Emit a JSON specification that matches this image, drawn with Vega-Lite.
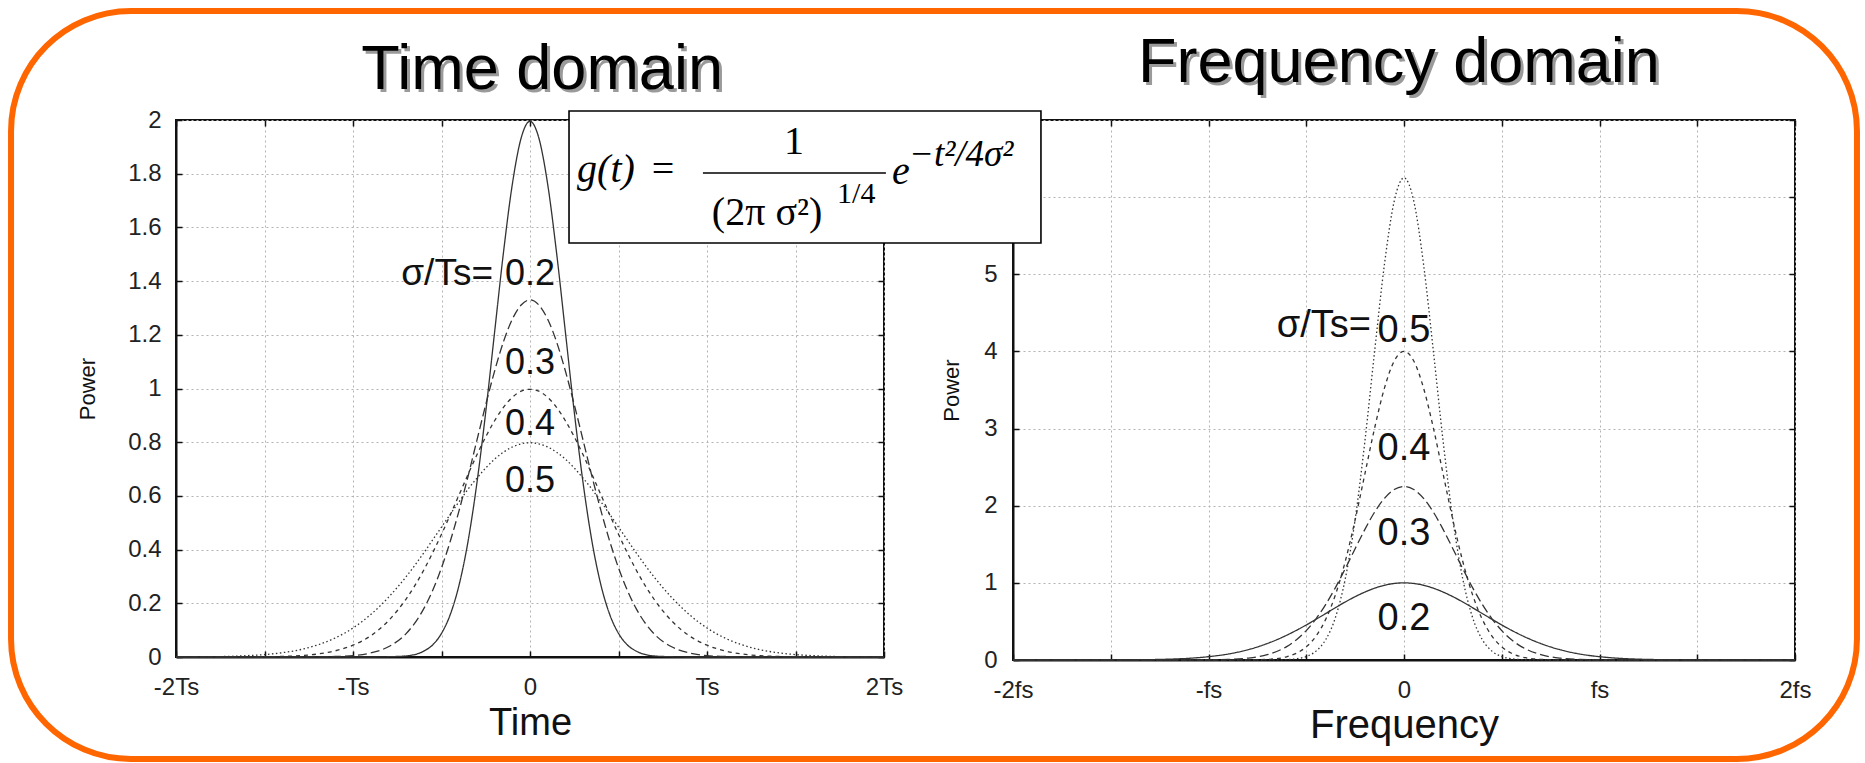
{
  "$schema": "https://vega.github.io/schema/vega-lite/v6.json",
  "padding": {"left": 7, "top": 6, "right": 6, "bottom": 3},
  "background": "white",
  "bounds": "flush",
  "spacing": 129,
  "config": {
    "font": "Liberation Sans",
    "view": {"stroke": "#111", "strokeWidth": 2, "fill": null},
    "axis": {
      "labelFont": "Liberation Sans",
      "labelFontSize": 24,
      "labelColor": "#222",
      "titleFont": "Liberation Sans",
      "titleFontWeight": "normal",
      "titleColor": "#111",
      "domainColor": "#111",
      "domainWidth": 2,
      "tickColor": "#111",
      "tickWidth": 1.5,
      "tickSize": -6,
      "gridColor": "#b3b3b3",
      "gridDash": [2, 3],
      "gridWidth": 1,
      "labelOverlap": false,
      "labelFlush": false,
      "zindex": 0
    }
  },
  "datasets": {
    "tcurve": [
      {"s":"0.2","x":-2,"p":0},{"s":"0.2","x":-1.5,"p":0},{"s":"0.2","x":-1,"p":0},{"s":"0.2","x":-0.9,"p":0},{"s":"0.2","x":-0.8,"p":0.001},{"s":"0.2","x":-0.7,"p":0.004},{"s":"0.2","x":-0.6,"p":0.022},{"s":"0.2","x":-0.55,"p":0.045},{"s":"0.2","x":-0.5,"p":0.088},{"s":"0.2","x":-0.45,"p":0.159},{"s":"0.2","x":-0.4,"p":0.27},{"s":"0.2","x":-0.35,"p":0.431},{"s":"0.2","x":-0.3,"p":0.648},{"s":"0.2","x":-0.25,"p":0.913},{"s":"0.2","x":-0.2,"p":1.21},{"s":"0.2","x":-0.15,"p":1.506},{"s":"0.2","x":-0.1,"p":1.76},{"s":"0.2","x":-0.05,"p":1.933},
      {"s":"0.2","x":0,"p":1.995},
      {"s":"0.2","x":0.05,"p":1.933},{"s":"0.2","x":0.1,"p":1.76},{"s":"0.2","x":0.15,"p":1.506},{"s":"0.2","x":0.2,"p":1.21},{"s":"0.2","x":0.25,"p":0.913},{"s":"0.2","x":0.3,"p":0.648},{"s":"0.2","x":0.35,"p":0.431},{"s":"0.2","x":0.4,"p":0.27},{"s":"0.2","x":0.45,"p":0.159},{"s":"0.2","x":0.5,"p":0.088},{"s":"0.2","x":0.55,"p":0.045},{"s":"0.2","x":0.6,"p":0.022},{"s":"0.2","x":0.7,"p":0.004},{"s":"0.2","x":0.8,"p":0.001},{"s":"0.2","x":0.9,"p":0},{"s":"0.2","x":1,"p":0},{"s":"0.2","x":1.5,"p":0},{"s":"0.2","x":2,"p":0},

      {"s":"0.3","x":-2,"p":0},{"s":"0.3","x":-1.5,"p":0},{"s":"0.3","x":-1.2,"p":0.0004},{"s":"0.3","x":-1.1,"p":0.002},{"s":"0.3","x":-1,"p":0.005},{"s":"0.3","x":-0.9,"p":0.015},{"s":"0.3","x":-0.8,"p":0.038},{"s":"0.3","x":-0.7,"p":0.087},{"s":"0.3","x":-0.6,"p":0.18},{"s":"0.3","x":-0.55,"p":0.248},{"s":"0.3","x":-0.5,"p":0.332},{"s":"0.3","x":-0.45,"p":0.432},{"s":"0.3","x":-0.4,"p":0.547},{"s":"0.3","x":-0.35,"p":0.673},{"s":"0.3","x":-0.3,"p":0.807},{"s":"0.3","x":-0.25,"p":0.94},{"s":"0.3","x":-0.2,"p":1.065},{"s":"0.3","x":-0.15,"p":1.174},{"s":"0.3","x":-0.1,"p":1.258},{"s":"0.3","x":-0.05,"p":1.311},
      {"s":"0.3","x":0,"p":1.33},
      {"s":"0.3","x":0.05,"p":1.311},{"s":"0.3","x":0.1,"p":1.258},{"s":"0.3","x":0.15,"p":1.174},{"s":"0.3","x":0.2,"p":1.065},{"s":"0.3","x":0.25,"p":0.94},{"s":"0.3","x":0.3,"p":0.807},{"s":"0.3","x":0.35,"p":0.673},{"s":"0.3","x":0.4,"p":0.547},{"s":"0.3","x":0.45,"p":0.432},{"s":"0.3","x":0.5,"p":0.332},{"s":"0.3","x":0.55,"p":0.248},{"s":"0.3","x":0.6,"p":0.18},{"s":"0.3","x":0.7,"p":0.087},{"s":"0.3","x":0.8,"p":0.038},{"s":"0.3","x":0.9,"p":0.015},{"s":"0.3","x":1,"p":0.005},{"s":"0.3","x":1.1,"p":0.002},{"s":"0.3","x":1.2,"p":0.0004},{"s":"0.3","x":1.5,"p":0},{"s":"0.3","x":2,"p":0},

      {"s":"0.4","x":-2,"p":0},{"s":"0.4","x":-1.8,"p":0},{"s":"0.4","x":-1.6,"p":0.0003},{"s":"0.4","x":-1.5,"p":0.001},{"s":"0.4","x":-1.4,"p":0.002},{"s":"0.4","x":-1.3,"p":0.005},{"s":"0.4","x":-1.2,"p":0.011},{"s":"0.4","x":-1.1,"p":0.023},{"s":"0.4","x":-1,"p":0.044},{"s":"0.4","x":-0.9,"p":0.079},{"s":"0.4","x":-0.8,"p":0.135},{"s":"0.4","x":-0.7,"p":0.216},{"s":"0.4","x":-0.6,"p":0.324},{"s":"0.4","x":-0.55,"p":0.388},{"s":"0.4","x":-0.5,"p":0.457},{"s":"0.4","x":-0.45,"p":0.53},{"s":"0.4","x":-0.4,"p":0.605},{"s":"0.4","x":-0.35,"p":0.68},{"s":"0.4","x":-0.3,"p":0.753},{"s":"0.4","x":-0.25,"p":0.82},{"s":"0.4","x":-0.2,"p":0.88},{"s":"0.4","x":-0.15,"p":0.93},{"s":"0.4","x":-0.1,"p":0.967},{"s":"0.4","x":-0.05,"p":0.99},
      {"s":"0.4","x":0,"p":0.997},
      {"s":"0.4","x":0.05,"p":0.99},{"s":"0.4","x":0.1,"p":0.967},{"s":"0.4","x":0.15,"p":0.93},{"s":"0.4","x":0.2,"p":0.88},{"s":"0.4","x":0.25,"p":0.82},{"s":"0.4","x":0.3,"p":0.753},{"s":"0.4","x":0.35,"p":0.68},{"s":"0.4","x":0.4,"p":0.605},{"s":"0.4","x":0.45,"p":0.53},{"s":"0.4","x":0.5,"p":0.457},{"s":"0.4","x":0.55,"p":0.388},{"s":"0.4","x":0.6,"p":0.324},{"s":"0.4","x":0.7,"p":0.216},{"s":"0.4","x":0.8,"p":0.135},{"s":"0.4","x":0.9,"p":0.079},{"s":"0.4","x":1,"p":0.044},{"s":"0.4","x":1.1,"p":0.023},{"s":"0.4","x":1.2,"p":0.011},{"s":"0.4","x":1.3,"p":0.005},{"s":"0.4","x":1.4,"p":0.002},{"s":"0.4","x":1.5,"p":0.001},{"s":"0.4","x":1.6,"p":0.0003},{"s":"0.4","x":1.8,"p":0},{"s":"0.4","x":2,"p":0},

      {"s":"0.5","x":-2,"p":0.0003},{"s":"0.5","x":-1.8,"p":0.001},{"s":"0.5","x":-1.6,"p":0.005},{"s":"0.5","x":-1.5,"p":0.009},{"s":"0.5","x":-1.4,"p":0.016},{"s":"0.5","x":-1.3,"p":0.027},{"s":"0.5","x":-1.2,"p":0.045},{"s":"0.5","x":-1.1,"p":0.071},{"s":"0.5","x":-1,"p":0.108},{"s":"0.5","x":-0.9,"p":0.158},{"s":"0.5","x":-0.8,"p":0.222},{"s":"0.5","x":-0.7,"p":0.299},{"s":"0.5","x":-0.6,"p":0.388},{"s":"0.5","x":-0.55,"p":0.436},{"s":"0.5","x":-0.5,"p":0.484},{"s":"0.5","x":-0.45,"p":0.532},{"s":"0.5","x":-0.4,"p":0.579},{"s":"0.5","x":-0.35,"p":0.625},{"s":"0.5","x":-0.3,"p":0.666},{"s":"0.5","x":-0.25,"p":0.704},{"s":"0.5","x":-0.2,"p":0.737},{"s":"0.5","x":-0.15,"p":0.763},{"s":"0.5","x":-0.1,"p":0.782},{"s":"0.5","x":-0.05,"p":0.794},
      {"s":"0.5","x":0,"p":0.798},
      {"s":"0.5","x":0.05,"p":0.794},{"s":"0.5","x":0.1,"p":0.782},{"s":"0.5","x":0.15,"p":0.763},{"s":"0.5","x":0.2,"p":0.737},{"s":"0.5","x":0.25,"p":0.704},{"s":"0.5","x":0.3,"p":0.666},{"s":"0.5","x":0.35,"p":0.625},{"s":"0.5","x":0.4,"p":0.579},{"s":"0.5","x":0.45,"p":0.532},{"s":"0.5","x":0.5,"p":0.484},{"s":"0.5","x":0.55,"p":0.436},{"s":"0.5","x":0.6,"p":0.388},{"s":"0.5","x":0.7,"p":0.299},{"s":"0.5","x":0.8,"p":0.222},{"s":"0.5","x":0.9,"p":0.158},{"s":"0.5","x":1,"p":0.108},{"s":"0.5","x":1.1,"p":0.071},{"s":"0.5","x":1.2,"p":0.045},{"s":"0.5","x":1.3,"p":0.027},{"s":"0.5","x":1.4,"p":0.016},{"s":"0.5","x":1.5,"p":0.009},{"s":"0.5","x":1.6,"p":0.005},{"s":"0.5","x":1.8,"p":0.001},{"s":"0.5","x":2,"p":0.0003}
    ],
    "fcurve": [
      {"s":"0.2","x":-2,"p":0},{"s":"0.2","x":-1.8,"p":0},{"s":"0.2","x":-1.6,"p":0.0003},{"s":"0.2","x":-1.5,"p":0.001},{"s":"0.2","x":-1.4,"p":0.002},{"s":"0.2","x":-1.3,"p":0.005},{"s":"0.2","x":-1.2,"p":0.011},{"s":"0.2","x":-1.1,"p":0.022},{"s":"0.2","x":-1,"p":0.043},{"s":"0.2","x":-0.9,"p":0.077},{"s":"0.2","x":-0.8,"p":0.132},{"s":"0.2","x":-0.7,"p":0.213},{"s":"0.2","x":-0.6,"p":0.321},{"s":"0.2","x":-0.55,"p":0.385},{"s":"0.2","x":-0.5,"p":0.454},{"s":"0.2","x":-0.45,"p":0.528},{"s":"0.2","x":-0.4,"p":0.603},{"s":"0.2","x":-0.35,"p":0.679},{"s":"0.2","x":-0.3,"p":0.753},{"s":"0.2","x":-0.25,"p":0.821},{"s":"0.2","x":-0.2,"p":0.881},{"s":"0.2","x":-0.15,"p":0.931},{"s":"0.2","x":-0.1,"p":0.969},{"s":"0.2","x":-0.05,"p":0.992},
      {"s":"0.2","x":0,"p":1},
      {"s":"0.2","x":0.05,"p":0.992},{"s":"0.2","x":0.1,"p":0.969},{"s":"0.2","x":0.15,"p":0.931},{"s":"0.2","x":0.2,"p":0.881},{"s":"0.2","x":0.25,"p":0.821},{"s":"0.2","x":0.3,"p":0.753},{"s":"0.2","x":0.35,"p":0.679},{"s":"0.2","x":0.4,"p":0.603},{"s":"0.2","x":0.45,"p":0.528},{"s":"0.2","x":0.5,"p":0.454},{"s":"0.2","x":0.55,"p":0.385},{"s":"0.2","x":0.6,"p":0.321},{"s":"0.2","x":0.7,"p":0.213},{"s":"0.2","x":0.8,"p":0.132},{"s":"0.2","x":0.9,"p":0.077},{"s":"0.2","x":1,"p":0.043},{"s":"0.2","x":1.1,"p":0.022},{"s":"0.2","x":1.2,"p":0.011},{"s":"0.2","x":1.3,"p":0.005},{"s":"0.2","x":1.4,"p":0.002},{"s":"0.2","x":1.5,"p":0.001},{"s":"0.2","x":1.6,"p":0.0003},{"s":"0.2","x":1.8,"p":0},{"s":"0.2","x":2,"p":0},

      {"s":"0.3","x":-2,"p":0},{"s":"0.3","x":-1.5,"p":0},{"s":"0.3","x":-1.2,"p":0},{"s":"0.3","x":-1.1,"p":0.0004},{"s":"0.3","x":-1,"p":0.002},{"s":"0.3","x":-0.9,"p":0.007},{"s":"0.3","x":-0.8,"p":0.024},{"s":"0.3","x":-0.7,"p":0.069},{"s":"0.3","x":-0.6,"p":0.174},{"s":"0.3","x":-0.55,"p":0.262},{"s":"0.3","x":-0.5,"p":0.381},{"s":"0.3","x":-0.45,"p":0.534},{"s":"0.3","x":-0.4,"p":0.722},{"s":"0.3","x":-0.35,"p":0.942},{"s":"0.3","x":-0.3,"p":1.187},{"s":"0.3","x":-0.25,"p":1.443},{"s":"0.3","x":-0.2,"p":1.693},{"s":"0.3","x":-0.15,"p":1.918},{"s":"0.3","x":-0.1,"p":2.096},{"s":"0.3","x":-0.05,"p":2.21},
      {"s":"0.3","x":0,"p":2.25},
      {"s":"0.3","x":0.05,"p":2.21},{"s":"0.3","x":0.1,"p":2.096},{"s":"0.3","x":0.15,"p":1.918},{"s":"0.3","x":0.2,"p":1.693},{"s":"0.3","x":0.25,"p":1.443},{"s":"0.3","x":0.3,"p":1.187},{"s":"0.3","x":0.35,"p":0.942},{"s":"0.3","x":0.4,"p":0.722},{"s":"0.3","x":0.45,"p":0.534},{"s":"0.3","x":0.5,"p":0.381},{"s":"0.3","x":0.55,"p":0.262},{"s":"0.3","x":0.6,"p":0.174},{"s":"0.3","x":0.7,"p":0.069},{"s":"0.3","x":0.8,"p":0.024},{"s":"0.3","x":0.9,"p":0.007},{"s":"0.3","x":1,"p":0.002},{"s":"0.3","x":1.1,"p":0.0004},{"s":"0.3","x":1.2,"p":0},{"s":"0.3","x":1.5,"p":0},{"s":"0.3","x":2,"p":0},

      {"s":"0.4","x":-2,"p":0},{"s":"0.4","x":-1.5,"p":0},{"s":"0.4","x":-1,"p":0},{"s":"0.4","x":-0.9,"p":0.0001},{"s":"0.4","x":-0.8,"p":0.001},{"s":"0.4","x":-0.7,"p":0.008},{"s":"0.4","x":-0.6,"p":0.042},{"s":"0.4","x":-0.55,"p":0.088},{"s":"0.4","x":-0.5,"p":0.17},{"s":"0.4","x":-0.45,"p":0.31},{"s":"0.4","x":-0.4,"p":0.53},{"s":"0.4","x":-0.35,"p":0.851},{"s":"0.4","x":-0.3,"p":1.283},{"s":"0.4","x":-0.25,"p":1.816},{"s":"0.4","x":-0.2,"p":2.413},{"s":"0.4","x":-0.15,"p":3.01},{"s":"0.4","x":-0.1,"p":3.525},{"s":"0.4","x":-0.05,"p":3.876},
      {"s":"0.4","x":0,"p":4},
      {"s":"0.4","x":0.05,"p":3.876},{"s":"0.4","x":0.1,"p":3.525},{"s":"0.4","x":0.15,"p":3.01},{"s":"0.4","x":0.2,"p":2.413},{"s":"0.4","x":0.25,"p":1.816},{"s":"0.4","x":0.3,"p":1.283},{"s":"0.4","x":0.35,"p":0.851},{"s":"0.4","x":0.4,"p":0.53},{"s":"0.4","x":0.45,"p":0.31},{"s":"0.4","x":0.5,"p":0.17},{"s":"0.4","x":0.55,"p":0.088},{"s":"0.4","x":0.6,"p":0.042},{"s":"0.4","x":0.7,"p":0.008},{"s":"0.4","x":0.8,"p":0.001},{"s":"0.4","x":0.9,"p":0.0001},{"s":"0.4","x":1,"p":0},{"s":"0.4","x":1.5,"p":0},{"s":"0.4","x":2,"p":0},

      {"s":"0.5","x":-2,"p":0},{"s":"0.5","x":-1.5,"p":0},{"s":"0.5","x":-1,"p":0},{"s":"0.5","x":-0.8,"p":0},{"s":"0.5","x":-0.7,"p":0.0004},{"s":"0.5","x":-0.6,"p":0.005},{"s":"0.5","x":-0.55,"p":0.016},{"s":"0.5","x":-0.5,"p":0.045},{"s":"0.5","x":-0.45,"p":0.115},{"s":"0.5","x":-0.4,"p":0.266},{"s":"0.5","x":-0.35,"p":0.557},{"s":"0.5","x":-0.3,"p":1.058},{"s":"0.5","x":-0.25,"p":1.82},{"s":"0.5","x":-0.2,"p":2.838},{"s":"0.5","x":-0.15,"p":4.009},{"s":"0.5","x":-0.1,"p":5.13},{"s":"0.5","x":-0.05,"p":5.949},
      {"s":"0.5","x":0,"p":6.25},
      {"s":"0.5","x":0.05,"p":5.949},{"s":"0.5","x":0.1,"p":5.13},{"s":"0.5","x":0.15,"p":4.009},{"s":"0.5","x":0.2,"p":2.838},{"s":"0.5","x":0.25,"p":1.82},{"s":"0.5","x":0.3,"p":1.058},{"s":"0.5","x":0.35,"p":0.557},{"s":"0.5","x":0.4,"p":0.266},{"s":"0.5","x":0.45,"p":0.115},{"s":"0.5","x":0.5,"p":0.045},{"s":"0.5","x":0.55,"p":0.016},{"s":"0.5","x":0.6,"p":0.005},{"s":"0.5","x":0.7,"p":0.0004},{"s":"0.5","x":0.8,"p":0},{"s":"0.5","x":1,"p":0},{"s":"0.5","x":1.5,"p":0},{"s":"0.5","x":2,"p":0}
    ]
  },
  "hconcat": [
    {
      "width": 708,
      "height": 537,
      "resolve": {"axis": {"x": "independent", "y": "independent"}},
      "layer": [
        {
          "description": "rounded orange frame around both panels",
          "data": {"values": [{"x1": -2.932, "x2": 7.497, "y1": 2.406, "y2": -0.38}]},
          "mark": {"type": "rect", "cornerRadius": 120, "fill": null, "stroke": "#ff6600", "strokeWidth": 6},
          "encoding": {
            "x": {"field": "x1", "type": "quantitative", "scale": {"domain": [-2, 2], "nice": false, "zero": false}, "axis": null},
            "x2": {"field": "x2"},
            "y": {"field": "y1", "type": "quantitative", "scale": {"domain": [0, 2], "nice": false, "zero": false}, "axis": null},
            "y2": {"field": "y2"}
          }
        },
        {
          "data": {"name": "tcurve"},
          "mark": {"type": "line", "interpolate": "monotone", "color": "#333", "strokeWidth": 1.3},
          "encoding": {
            "x": {
              "field": "x", "type": "quantitative",
              "scale": {"domain": [-2, 2], "nice": false, "zero": false},
              "axis": {
                "orient": "bottom", "title": "Time", "titleFontSize": 38, "titlePadding": 5,
                "values": [-2, -1.5, -1, -0.5, 0, 0.5, 1, 1.5, 2],
                "labelExpr": "datum.value === 0 ? '0' : datum.value === 1 ? 'Ts' : datum.value === -1 ? '-Ts' : datum.value === 2 ? '2Ts' : datum.value === -2 ? '-2Ts' : ''",
                "labelPadding": 24, "grid": true
              }
            },
            "y": {
              "field": "p", "type": "quantitative",
              "scale": {"domain": [0, 2], "nice": false, "zero": false},
              "axis": {
                "orient": "left", "title": "Power", "titleFontSize": 22, "titlePadding": 28,
                "values": [0, 0.2, 0.4, 0.6, 0.8, 1, 1.2, 1.4, 1.6, 1.8, 2],
                "format": "~g", "labelPadding": 21, "grid": true
              }
            },
            "strokeDash": {
              "field": "s", "type": "nominal",
              "scale": {"domain": ["0.2", "0.3", "0.4", "0.5"], "range": [[1, 0], [9, 4], [4, 4], [1.5, 2.5]]},
              "legend": null
            }
          }
        },
        {
          "data": {"values": [
            {"t": "0.2", "x": 0, "y": 1.385},
            {"t": "0.3", "x": 0, "y": 1.054},
            {"t": "0.4", "x": 0, "y": 0.827},
            {"t": "0.5", "x": 0, "y": 0.615}
          ]},
          "mark": {"type": "text", "fontSize": 36, "align": "center", "baseline": "alphabetic", "color": "#111"},
          "encoding": {
            "x": {
              "field": "x", "type": "quantitative",
              "scale": {"domain": [-2, 2], "nice": false, "zero": false},
              "axis": {"orient": "top", "title": null, "labels": false, "grid": false, "domain": false, "values": [-2, -1.5, -1, -0.5, 0, 0.5, 1, 1.5, 2]}
            },
            "y": {
              "field": "y", "type": "quantitative",
              "scale": {"domain": [0, 2], "nice": false, "zero": false},
              "axis": {"orient": "right", "title": null, "labels": false, "grid": false, "domain": false, "values": [0, 0.2, 0.4, 0.6, 0.8, 1, 1.2, 1.4, 1.6, 1.8, 2]}
            },
            "text": {"field": "t"}
          }
        },
        {
          "data": {"values": [{"t": "σ/Ts=", "x": -0.209, "y": 1.385}]},
          "mark": {"type": "text", "fontSize": 37, "align": "right", "baseline": "alphabetic", "color": "#111"},
          "encoding": {
            "x": {"field": "x", "type": "quantitative", "scale": {"domain": [-2, 2], "nice": false, "zero": false}, "axis": null},
            "y": {"field": "y", "type": "quantitative", "scale": {"domain": [0, 2], "nice": false, "zero": false}, "axis": null},
            "text": {"field": "t"}
          }
        },
        {
          "data": {"values": [{"t": "Time domain", "x": 0.068, "y": 2.1155}]},
          "layer": [
            {"mark": {"type": "text", "fontSize": 63, "align": "center", "baseline": "alphabetic", "color": "#9a9a9a", "dx": 3, "dy": 3}},
            {"mark": {"type": "text", "fontSize": 63, "align": "center", "baseline": "alphabetic", "color": "#000"}}
          ],
          "encoding": {
            "x": {"field": "x", "type": "quantitative", "scale": {"domain": [-2, 2], "nice": false, "zero": false}, "axis": null},
            "y": {"field": "y", "type": "quantitative", "scale": {"domain": [0, 2], "nice": false, "zero": false}, "axis": null},
            "text": {"field": "t"}
          }
        }
      ]
    },
    {
      "width": 782,
      "height": 540,
      "resolve": {"axis": {"x": "independent", "y": "independent"}},
      "layer": [
        {
          "data": {"name": "fcurve"},
          "mark": {"type": "line", "interpolate": "monotone", "color": "#333", "strokeWidth": 1.3},
          "encoding": {
            "x": {
              "field": "x", "type": "quantitative",
              "scale": {"domain": [-2, 2], "nice": false, "zero": false},
              "axis": {
                "orient": "bottom", "title": "Frequency", "titleFontSize": 40, "titlePadding": 3,
                "values": [-2, -1.5, -1, -0.5, 0, 0.5, 1, 1.5, 2],
                "labelExpr": "datum.value === 0 ? '0' : datum.value === 1 ? 'fs' : datum.value === -1 ? '-fs' : datum.value === 2 ? '2fs' : datum.value === -2 ? '-2fs' : ''",
                "labelPadding": 24, "grid": true
              }
            },
            "y": {
              "field": "p", "type": "quantitative",
              "scale": {"domain": [0, 7], "nice": false, "zero": false},
              "axis": {
                "orient": "left", "title": "Power", "titleFontSize": 22, "titlePadding": 20,
                "values": [0, 1, 2, 3, 4, 5, 6, 7],
                "labelExpr": "datum.value > 5 ? '' : datum.label",
                "labelPadding": 22, "grid": true
              }
            },
            "strokeDash": {
              "field": "s", "type": "nominal",
              "scale": {"domain": ["0.2", "0.3", "0.4", "0.5"], "range": [[1, 0], [9, 4], [4, 4], [1.5, 2.5]]},
              "legend": null
            }
          }
        },
        {
          "data": {"values": [
            {"t": "0.5", "x": 0, "y": 4.122},
            {"t": "0.4", "x": 0, "y": 2.593},
            {"t": "0.3", "x": 0, "y": 1.491},
            {"t": "0.2", "x": 0, "y": 0.389}
          ]},
          "mark": {"type": "text", "fontSize": 38, "align": "center", "baseline": "alphabetic", "color": "#111"},
          "encoding": {
            "x": {
              "field": "x", "type": "quantitative",
              "scale": {"domain": [-2, 2], "nice": false, "zero": false},
              "axis": {"orient": "top", "title": null, "labels": false, "grid": false, "domain": false, "values": [-2, -1.5, -1, -0.5, 0, 0.5, 1, 1.5, 2]}
            },
            "y": {
              "field": "y", "type": "quantitative",
              "scale": {"domain": [0, 7], "nice": false, "zero": false},
              "axis": {"orient": "right", "title": null, "labels": false, "grid": false, "domain": false, "values": [0, 1, 2, 3, 4, 5, 6, 7]}
            },
            "text": {"field": "t"}
          }
        },
        {
          "data": {"values": [{"t": "σ/Ts=", "x": -0.169, "y": 4.187}]},
          "mark": {"type": "text", "fontSize": 38, "align": "right", "baseline": "alphabetic", "color": "#111"},
          "encoding": {
            "x": {"field": "x", "type": "quantitative", "scale": {"domain": [-2, 2], "nice": false, "zero": false}, "axis": null},
            "y": {"field": "y", "type": "quantitative", "scale": {"domain": [0, 7], "nice": false, "zero": false}, "axis": null},
            "text": {"field": "t"}
          }
        },
        {
          "data": {"values": [{"t": "Frequency domain", "x": -0.026, "y": 7.493}]},
          "layer": [
            {"mark": {"type": "text", "fontSize": 63, "align": "center", "baseline": "alphabetic", "color": "#9a9a9a", "dx": 3, "dy": 3}},
            {"mark": {"type": "text", "fontSize": 63, "align": "center", "baseline": "alphabetic", "color": "#000"}}
          ],
          "encoding": {
            "x": {"field": "x", "type": "quantitative", "scale": {"domain": [-2, 2], "nice": false, "zero": false}, "axis": null},
            "y": {"field": "y", "type": "quantitative", "scale": {"domain": [0, 7], "nice": false, "zero": false}, "axis": null},
            "text": {"field": "t"}
          }
        },
        {
          "description": "white box holding the pulse formula",
          "data": {"values": [{"x1": -4.271, "x2": -1.857, "y1": 7.117, "y2": 5.406}]},
          "mark": {"type": "rect", "fill": "white", "stroke": "#000", "strokeWidth": 1.6},
          "encoding": {
            "x": {"field": "x1", "type": "quantitative", "scale": {"domain": [-2, 2], "nice": false, "zero": false}, "axis": null},
            "x2": {"field": "x2"},
            "y": {"field": "y1", "type": "quantitative", "scale": {"domain": [0, 7], "nice": false, "zero": false}, "axis": null},
            "y2": {"field": "y2"}
          }
        },
        {
          "data": {"values": [{"x1": -3.586, "x2": -2.65, "y": 6.313}]},
          "mark": {"type": "rule", "color": "#000", "strokeWidth": 1.6},
          "encoding": {
            "x": {"field": "x1", "type": "quantitative", "scale": {"domain": [-2, 2], "nice": false, "zero": false}, "axis": null},
            "x2": {"field": "x2"},
            "y": {"field": "y", "type": "quantitative", "scale": {"domain": [0, 7], "nice": false, "zero": false}, "axis": null}
          }
        },
        {
          "data": {"values": [
            {"t": "g(t)", "x": -4.082, "y": 6.197},
            {"t": "e", "x": -2.573, "y": 6.171}
          ]},
          "mark": {"type": "text", "font": "Liberation Serif", "fontStyle": "italic", "fontSize": 40, "align": "center", "baseline": "alphabetic", "color": "#000"},
          "encoding": {
            "x": {"field": "x", "type": "quantitative", "scale": {"domain": [-2, 2], "nice": false, "zero": false}, "axis": null},
            "y": {"field": "y", "type": "quantitative", "scale": {"domain": [0, 7], "nice": false, "zero": false}, "axis": null},
            "text": {"field": "t"}
          }
        },
        {
          "data": {"values": [
            {"t": "=", "x": -3.79, "y": 6.197},
            {"t": "1", "x": -3.12, "y": 6.56},
            {"t": "(2π σ²)", "x": -3.258, "y": 5.639}
          ]},
          "mark": {"type": "text", "font": "Liberation Serif", "fontSize": 40, "align": "center", "baseline": "alphabetic", "color": "#000"},
          "encoding": {
            "x": {"field": "x", "type": "quantitative", "scale": {"domain": [-2, 2], "nice": false, "zero": false}, "axis": null},
            "y": {"field": "y", "type": "quantitative", "scale": {"domain": [0, 7], "nice": false, "zero": false}, "axis": null},
            "text": {"field": "t"}
          }
        },
        {
          "data": {"values": [{"t": "1/4", "x": -2.9, "y": 5.93}]},
          "mark": {"type": "text", "font": "Liberation Serif", "fontSize": 30, "align": "left", "baseline": "alphabetic", "color": "#000"},
          "encoding": {
            "x": {"field": "x", "type": "quantitative", "scale": {"domain": [-2, 2], "nice": false, "zero": false}, "axis": null},
            "y": {"field": "y", "type": "quantitative", "scale": {"domain": [0, 7], "nice": false, "zero": false}, "axis": null},
            "text": {"field": "t"}
          }
        },
        {
          "data": {"values": [{"t": "−t²/4σ²", "x": -2.532, "y": 6.4}]},
          "mark": {"type": "text", "font": "Liberation Serif", "fontStyle": "italic", "fontSize": 37, "align": "left", "baseline": "alphabetic", "color": "#000"},
          "encoding": {
            "x": {"field": "x", "type": "quantitative", "scale": {"domain": [-2, 2], "nice": false, "zero": false}, "axis": null},
            "y": {"field": "y", "type": "quantitative", "scale": {"domain": [0, 7], "nice": false, "zero": false}, "axis": null},
            "text": {"field": "t"}
          }
        }
      ]
    }
  ]
}
